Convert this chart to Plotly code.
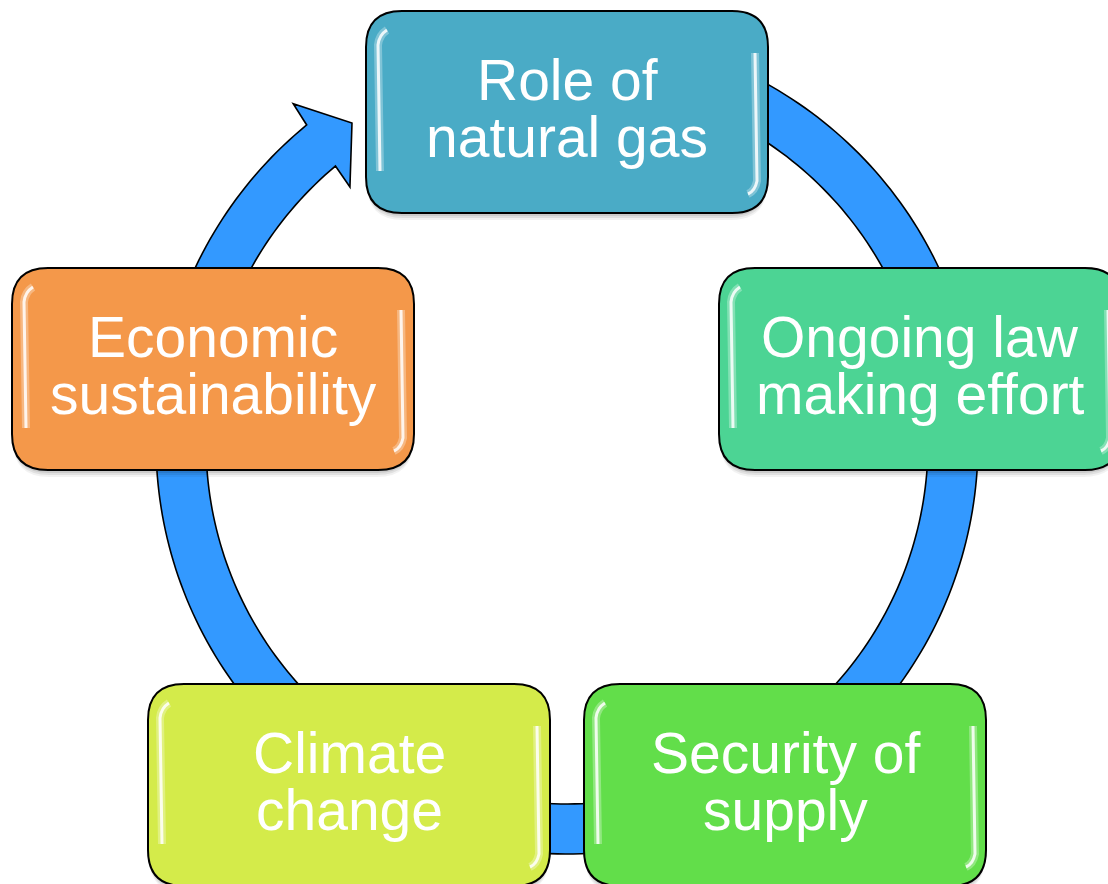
import numpy as np
import plotly.graph_objects as go

# ---------------- data ----------------
categories = ["Role of natural gas", "Ongoing law making effort", "Security of supply",
              "Climate change", "Economic sustainability"]
line1 = ["Role of", "Ongoing law", "Security of", "Climate", "Economic"]
line2 = ["natural gas", "making effort", "supply", "change", "sustainability"]
box_colors = ["#4AABC6", "#4CD494", "#62DE4A", "#D4EB4A", "#F4984A"]

# ---------------- layout geometry ----------------
W, H = 1108, 884
box_left = [366, 719, 584, 148, 12]
box_top = [11, 268, 684, 684, 268]
BOX_W, BOX_H, CORNER = 402, 202, 36

RING_CX, RING_CY = 567, 443
R_OUT, R_IN = 411, 361
ARC_START, ARC_END = -100.0, 230.7           # degrees, screen coords (y down)
HEAD = [(436, 231.1), (385.5, 236.1), (335.6, 229.7), (361, 230.1)]  # (radius, angle)
RING_COLOR = "#3399FF"


def polar(r, deg):
    t = np.radians(deg)
    return RING_CX + r * np.cos(t), RING_CY + r * np.sin(t)


def ring_path():
    th_out = np.linspace(ARC_START, ARC_END, 300)
    xo, yo = polar(R_OUT, th_out)
    pts = list(zip(xo, yo))
    for r, a in HEAD:
        pts.append(polar(r, a))
    th_in = np.linspace(HEAD[-1][1], ARC_START, 300)
    xi, yi = polar(R_IN, th_in)
    pts += list(zip(xi, yi))
    s = "M %.2f,%.2f " % pts[0] + " ".join("L %.2f,%.2f" % p for p in pts[1:]) + " Z"
    return s


def rrect(x0, y0, x1, y1, r):
    return (f"M {x0+r},{y0} L {x1-r},{y0} Q {x1},{y0} {x1},{y0+r} "
            f"L {x1},{y1-r} Q {x1},{y1} {x1-r},{y1} L {x0+r},{y1} "
            f"Q {x0},{y1} {x0},{y1-r} L {x0},{y0+r} Q {x0},{y0} {x0+r},{y0} Z")


shapes = []
annotations = []

# ring with arrowhead
shapes.append(dict(type="path", path=ring_path(), xref="x", yref="y",
                   fillcolor=RING_COLOR, line=dict(color="black", width=1.6), layer="above"))

for i, cat in enumerate(categories):
    x0, y0 = box_left[i], box_top[i]
    x1, y1 = x0 + BOX_W, y0 + BOX_H
    # soft shadow
    for k, op in [(7, 0.05), (5, 0.07), (3, 0.09)]:
        shapes.append(dict(type="path", path=rrect(x0 + 1, y0 + k, x1 - 1, y1 + k, CORNER),
                           fillcolor=f"rgba(0,0,0,{op})", line=dict(width=0), layer="above"))
    # box
    shapes.append(dict(type="path", path=rrect(x0, y0, x1, y1, CORNER),
                       fillcolor=box_colors[i], line=dict(color="black", width=2), layer="above"))
    # glossy highlights
    left_hl = f"M {x0+21},{y0+19} Q {x0+13},{y0+24} {x0+12},{y0+34} L {x0+14},{y1-42}"
    right_hl = f"M {x1-13},{y0+42} L {x1-11},{y1-32} Q {x1-13},{y1-22} {x1-20},{y1-19}"
    for p in (left_hl, right_hl):
        shapes.append(dict(type="path", path=p, line=dict(color="rgba(255,255,255,0.3)", width=8),
                           layer="above"))
        shapes.append(dict(type="path", path=p, line=dict(color="rgba(255,255,255,0.85)", width=3),
                           layer="above"))
    cx, cy = (x0 + x1) / 2, (y0 + y1) / 2
    for txt, dy in ((line1[i], -32), (line2[i], 25)):
        annotations.append(dict(x=cx, y=cy + dy, xref="x", yref="y", text=txt, showarrow=False,
                                xanchor="center", yanchor="middle",
                                font=dict(family="Liberation Sans, Arial, sans-serif",
                                          size=57, color="white")))

fig = go.Figure()
fig.update_layout(
    width=W, height=H, margin=dict(l=0, r=0, t=0, b=0),
    paper_bgcolor="white", plot_bgcolor="white",
    xaxis=dict(range=[0, W], visible=False, fixedrange=True),
    yaxis=dict(range=[H, 0], visible=False, fixedrange=True),
    shapes=shapes, annotations=annotations, showlegend=False,
)
fig.write_html("out.html", config={"displayModeBar": False},
               post_script="document.body.style.margin='0';document.body.style.overflow='hidden';")
